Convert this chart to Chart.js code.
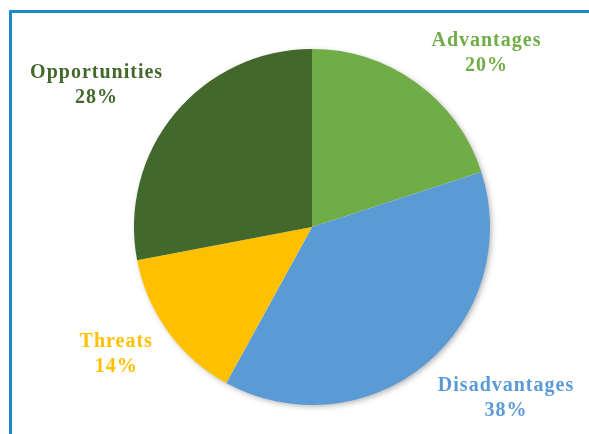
<!DOCTYPE html>
<html>
<head>
<meta charset="utf-8">
<script src="https://cdn.jsdelivr.net/npm/chart.js@4/dist/chart.umd.min.js"></script>
<style>
  html, body { margin: 0; padding: 0; background: #fff; }
  #wrap { position: relative; width: 589px; height: 434px; }
  #frame { position: absolute; left: 9px; top: 10px; right: 0; bottom: 0;
           border-left: 3px solid #1F89C8; border-top: 3px solid #1F89C8; }
  canvas { position: absolute; left: 0; top: 0; }
</style>
</head>
<body>
<div id="wrap">
  <div id="frame"></div>
  <canvas id="swot_chart" width="589" height="434"></canvas>
</div>
<script>
const swotChart = document.querySelector('#swot_chart')
const categories = ['Advantages', 'Disadvantages', 'Threats', 'Opportunities']
const shares = [20, 38, 14, 28]
const sliceColors = ['#70AD47', '#5B9BD5', '#FFC000', '#43682B']
// label anchor, offset from the pie centre in radii
const labelOffsets = [[0.98, -0.98], [1.09, 0.96], [-1.10, 0.71], [-1.21, -0.80]]

// soft shadow under the whole pie
const pieShadow = {
  id: 'pieShadow',
  beforeDatasetsDraw(chart) {
    const arc = chart.getDatasetMeta(0).data[0]
    if (!arc) return
    const ctx = chart.ctx
    ctx.save()
    ctx.shadowColor = 'rgba(0,0,0,0.35)'
    ctx.shadowBlur = 6
    ctx.shadowOffsetX = 2
    ctx.shadowOffsetY = 2
    ctx.fillStyle = '#fff'
    ctx.beginPath()
    ctx.arc(arc.x, arc.y, arc.outerRadius - 1, 0, Math.PI * 2)
    ctx.fill()
    ctx.restore()
  }
}

const sliceLabels = {
  id: 'sliceLabels',
  afterDatasetsDraw(chart) {
    const meta = chart.getDatasetMeta(0)
    const ctx = chart.ctx
    ctx.save()
    ctx.font = 'bold 20px "Liberation Serif", "Times New Roman", serif'
    ctx.letterSpacing = '1px'
    ctx.textAlign = 'center'
    ctx.textBaseline = 'middle'
    meta.data.forEach((arc, i) => {
      const r = arc.outerRadius
      const x = arc.x + labelOffsets[i][0] * r
      const y = arc.y + labelOffsets[i][1] * r
      ctx.fillStyle = sliceColors[i]
      ctx.fillText(categories[i], x, y - 12)
      ctx.fillText(shares[i] + '%', x, y + 13)
    })
    ctx.restore()
  }
}

new Chart(swotChart, {
  type: 'pie',
  plugins: [pieShadow, sliceLabels],
  options: {
    responsive: false,
    animation: false,
    layout: { padding: { left: 134, right: 99, top: 49, bottom: 29 } },
    plugins: {
      legend: { display: false },
      title: { display: false },
      tooltip: { enabled: false }
    }
  },
  data: {
    labels: categories,
    datasets: [{
      data: shares,
      backgroundColor: sliceColors,
      borderWidth: 0
    }]
  }
})
</script>
</body>
</html>
